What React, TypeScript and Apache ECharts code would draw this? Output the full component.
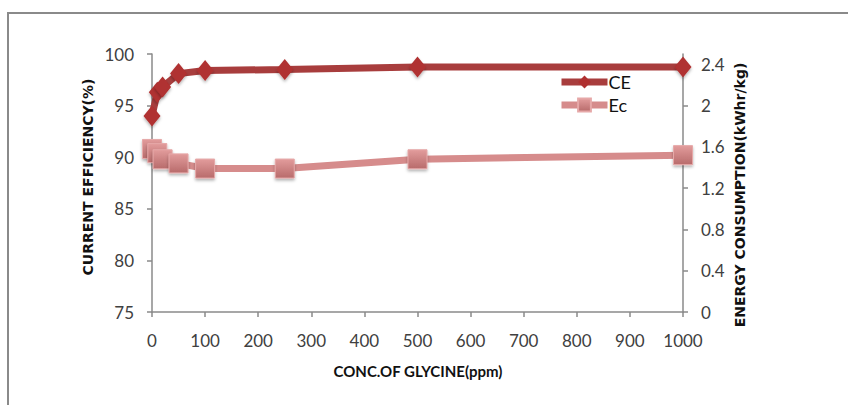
import React, { useEffect, useRef } from "react";
import * as echarts from "echarts";

const glycine = [0, 10, 20, 50, 100, 250, 500, 1000];
const currentEfficiency = [94.0, 96.3, 96.8, 98.1, 98.4, 98.5, 98.75, 98.75];
const energyConsumption = [1.58, 1.54, 1.48, 1.44, 1.39, 1.39, 1.48, 1.52];

const xTitle = "CONC.OF GLYCINE(ppm)";
const leftTitle = "CURRENT EFFICIENCY(%)";
const rightTitle = "ENERGY CONSUMPTION(kWhr/kg)";

const FONT = "Lato, 'Open Sans', sans-serif";

export default function App() {
  const ref = useRef<HTMLDivElement>(null);
  useEffect(() => {
    if (!ref.current) return;
    const chart = echarts.init(ref.current, undefined, { renderer: "svg" });
    const axisLine = { show: true, lineStyle: { color: "#8a8a8a", width: 1.5 } };
    const axisTick = { show: true, length: 5, lineStyle: { color: "#8a8a8a", width: 1.5 } };
    const label = { color: "#404040", fontSize: 17, fontFamily: FONT };
    chart.setOption({
      animation: false,
      backgroundColor: "#ffffff",
      grid: { left: 152, right: 165, top: 54, bottom: 93 },
      legend: {
        orient: "vertical",
        left: 553,
        top: 68,
        itemWidth: 46,
        itemHeight: 16,
        itemGap: 5,
        lineStyle: { width: 7 },
        textStyle: { color: "#111", fontSize: 18, fontFamily: FONT, padding: [0, 0, 0, -4] },
        data: ["CE", "Ec"],
      },
      xAxis: {
        type: "value",
        min: 0,
        max: 1000,
        interval: 100,
        axisLine,
        axisTick,
        splitLine: { show: false },
        axisLabel: { ...label, margin: 20, formatter: (v: number) => String(v) },
      },
      yAxis: [
        {
          type: "value",
          min: 75,
          max: 100,
          interval: 5,
          axisLine,
          axisTick,
          splitLine: { show: false },
          axisLabel: { ...label, margin: 18 },
        },
        {
          type: "value",
          position: "right",
          min: 0,
          max: 2.5,
          interval: 0.4,
          axisLine,
          axisTick,
          splitLine: { show: false },
          axisLabel: { ...label, margin: 18, showMaxLabel: false },
        },
      ],
      series: [
        {
          name: "CE",
          type: "line",
          yAxisIndex: 0,
          data: glycine.map((x, i) => [x, currentEfficiency[i]]),
          symbol: "diamond",
          symbolSize: [17, 21],
          lineStyle: { color: "#a83d3d", width: 7 },
          itemStyle: {
            color: "#b03030",
            shadowColor: "rgba(0,0,0,0.3)",
            shadowBlur: 3,
            shadowOffsetY: 2,
          },
          z: 3,
        },
        {
          name: "Ec",
          type: "line",
          yAxisIndex: 1,
          data: glycine.map((x, i) => [x, energyConsumption[i]]),
          symbol: "rect",
          symbolSize: 19,
          lineStyle: { color: "#d68c8c", width: 7 },
          itemStyle: {
            color: new echarts.graphic.LinearGradient(0, 0, 0, 1, [
              { offset: 0, color: "#e29c9c" },
              { offset: 1, color: "#b86b6b" },
            ]),
            borderColor: "#e6a8a8",
            borderWidth: 1,
            shadowColor: "rgba(0,0,0,0.3)",
            shadowBlur: 3,
            shadowOffsetY: 2,
          },
          z: 2,
        },
      ],
      graphic: [
        {
          type: "polyline",
          shape: { points: [[8, 405], [8, 13], [848, 13]] },
          style: { stroke: "#8a8a8a", lineWidth: 2, fill: "none" },
          silent: true,
        },
        {
          type: "text",
          x: 418,
          y: 371,
          style: {
            text: xTitle,
            fill: "#111",
            font: `bold 15px ${FONT}`,
            textAlign: "center",
            textVerticalAlign: "middle",
          },
        },
        {
          type: "text",
          x: 88,
          y: 177,
          rotation: Math.PI / 2,
          style: {
            text: leftTitle,
            fill: "#111",
            font: "bold 14px 'DejaVu Sans', sans-serif",
            textAlign: "center",
            textVerticalAlign: "middle",
          },
        },
        {
          type: "text",
          x: 740,
          y: 195,
          rotation: Math.PI / 2,
          style: {
            text: rightTitle,
            fill: "#111",
            font: "bold 14px 'DejaVu Sans', sans-serif",
            textAlign: "center",
            textVerticalAlign: "middle",
          },
        },
      ],
    });
    return () => chart.dispose();
  }, []);
  return (
    <div
      ref={ref}
      style={{ position: "fixed", left: 0, top: 0, width: 848, height: 405 }}
    />
  );
}
